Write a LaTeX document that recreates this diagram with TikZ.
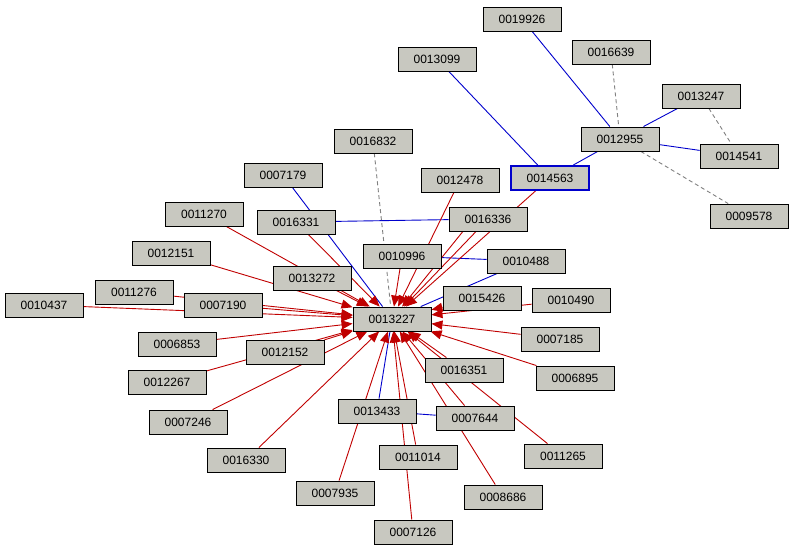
\documentclass[tikz,border=0pt]{standalone}
\usepackage{fontspec}
\setmainfont{Liberation Sans}
\usetikzlibrary{arrows.meta,backgrounds}
\definecolor{nf}{RGB}{200,200,192}
\definecolor{rd}{RGB}{192,0,0}
\definecolor{bl}{RGB}{0,0,204}
\begin{document}
\begin{tikzpicture}[x=1pt,y=-1pt,
 n/.style={draw=black,fill=nf,minimum width=78pt,minimum height=24pt,inner sep=0pt,font=\fontsize{12}{14}\selectfont,line width=0.9pt},
 r/.style={draw=rd,line width=0.9pt,-{Triangle[length=11pt,width=9pt]}},
 b/.style={draw=bl,line width=0.9pt},
 d/.style={draw=gray,line width=0.9pt,dash pattern=on 4pt off 3pt}]
\useasboundingbox (0,0) rectangle (794,552);
\node[n] (a19926) at (522,19) {0019926};
\node[n] (a16639) at (611,52) {0016639};
\node[n] (a13099) at (437,59) {0013099};
\node[n] (a13247) at (701,96) {0013247};
\node[n] (a12955) at (620,139) {0012955};
\node[n] (a14541) at (739,156) {0014541};
\node[n] (a16832) at (373,141) {0016832};
\node[n,draw=bl,line width=2pt] (a14563) at (550,178) {0014563};
\node[n] (a07179) at (283,175) {0007179};
\node[n] (a12478) at (460,180) {0012478};
\node[n] (a09578) at (749,216) {0009578};
\node[n] (a11270) at (204,214) {0011270};
\node[n] (a16331) at (296,222) {0016331};
\node[n] (a16336) at (488,219) {0016336};
\node[n] (a12151) at (171,253) {0012151};
\node[n] (a10996) at (402,256) {0010996};
\node[n] (a10488) at (526,261) {0010488};
\node[n] (a13272) at (312,278) {0013272};
\node[n] (a11276) at (134,292) {0011276};
\node[n] (a07190) at (223,305) {0007190};
\node[n] (a10437) at (44,305) {0010437};
\node[n] (a15426) at (482,298) {0015426};
\node[n] (a10490) at (571,300) {0010490};
\node[n] (a13227) at (392,319) {0013227};
\node[n] (a07185) at (560,339) {0007185};
\node[n] (a06853) at (177,344) {0006853};
\node[n] (a12152) at (285,352) {0012152};
\node[n] (a16351) at (464,370) {0016351};
\node[n] (a06895) at (575,378) {0006895};
\node[n] (a12267) at (167,382) {0012267};
\node[n] (a13433) at (377,411) {0013433};
\node[n] (a07644) at (475,418) {0007644};
\node[n] (a07246) at (188,422) {0007246};
\node[n] (a16330) at (246,460) {0016330};
\node[n] (a11014) at (418,457) {0011014};
\node[n] (a11265) at (563,456) {0011265};
\node[n] (a07935) at (335,493) {0007935};
\node[n] (a08686) at (503,497) {0008686};
\node[n] (a07126) at (413,532) {0007126};
\begin{pgfonlayer}{background}
\draw[b] (a19926)--(a12955);
\draw[b] (a13099)--(a14563);
\draw[b] (a14563)--(a12955);
\draw[b] (a12955)--(a13247);
\draw[b] (a12955)--(a14541);
\draw[b] (a16331)--(a16336);
\draw[b] (a07179)--(a13227);
\draw[b] (a10996)--(a10488);
\draw[b] (a10488)--(a13227);
\draw[b] (a13433)--(a07644);
\draw[b] (a13433)--(a13227);
\draw[d] (a16639)--(a12955);
\draw[d] (a13247)--(a14541);
\draw[d] (a12955)--(a09578);
\draw[d] (a16832)--(a13227);
\foreach \s in {a12478,a14563,a16336,a10996,a16331,a11270,a12151,a13272,a11276,a07190,a10437,a06853,a12152,a12267,a07246,a16330,a07935,a11014,a07126,a08686,a11265,a06895,a07185,a10490,a15426,a16351,a07644}
 \draw[r] (\s)--(a13227);
\draw[r] ([xshift=-15pt]a16336.center)--(a13227);
\end{pgfonlayer}
\end{tikzpicture}
\end{document}
